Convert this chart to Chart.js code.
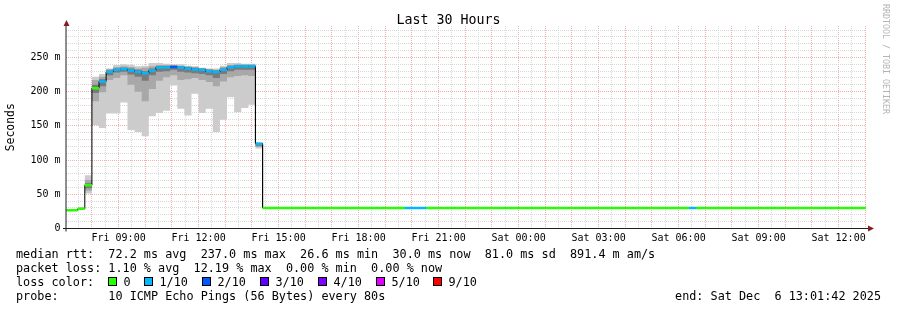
<!DOCTYPE html>
<html>
<head>
<meta charset="utf-8">
<script src="https://cdn.jsdelivr.net/npm/chart.js@4.4.1/dist/chart.umd.min.js"></script>
<style>
  html, body { margin: 0; padding: 0; background: #fff; }
  #wrap { position: relative; width: 897px; height: 310px; overflow: hidden; background: #fff; }
  #graph { position: absolute; left: 0; top: 0; }
  .txt { position: absolute; font-family: 'DejaVu Sans Mono', monospace; font-size: 11.8px; line-height: 14px; white-space: pre; color: #000; }
  .box { position: absolute; width: 7px; height: 7px; border: 1px solid #000; }
  #title { position: absolute; left: 0; width: 897px; top: 11.5px; text-align: center; font-family: 'DejaVu Sans Mono', monospace; font-size: 13.3px; line-height: 16px; }
  #credit { position: absolute; left: 881px; top: 4px; writing-mode: vertical-rl; font-family: 'DejaVu Sans Mono', monospace; font-size: 8.3px; line-height: 10px; color: #b4b4b4; white-space: pre; }
</style>
</head>
<body>
<div id="wrap">
  <canvas id="graph" width="897" height="310"></canvas>
  <div id="title">Last 30 Hours</div>
  <div id="credit">RRDTOOL / TOBI OETIKER</div>
  <div class="txt" style="left:16px; top:247px">median rtt:  72.2 ms avg  237.0 ms max  26.6 ms min  30.0 ms now  81.0 ms sd  891.4 m am/s</div>
  <div class="txt" style="left:16px; top:261px">packet loss: 1.10 % avg  12.19 % max  0.00 % min  0.00 % now</div>
  <div class="txt" style="left:16px; top:275px">loss color:</div>
  <div id="lossrow"></div>
  <div class="txt" style="left:16px; top:289px">probe:       10 ICMP Echo Pings (56 Bytes) every 80s</div>
  <div class="txt" style="right:16px; top:289px">end: Sat Dec  6 13:01:42 2025</div>
</div>
<script>
// time axis in hours since Fri 00:00; the window is the last 30 hours before Sat 13:01:42
const windowStart = 7 + 1 / 60 + 42 / 3600;
const windowEnd = windowStart + 30;
const stepHours = 16 / 60;              // 960 s consolidation step
const firstStep = 7 + 28 / 60 - 2 * stepHours;

const xTickHours = [9, 12, 15, 18, 21, 24, 27, 30, 33, 36];
const xTickLabels = ['Fri 09:00', 'Fri 12:00', 'Fri 15:00', 'Fri 18:00', 'Fri 21:00',
                     'Sat 00:00', 'Sat 03:00', 'Sat 06:00', 'Sat 09:00', 'Sat 12:00'];
const yTickValues = [0, 50, 100, 150, 200, 250];
const yTickLabels = ['0', '50 m', '100 m', '150 m', '200 m', '250 m'];

// median rtt per step (ms)
const median = [
  26.6, 26.6, 28.8, 63.2, 205, 215, 229, 232, 233, 231, 229, 227, 231, 235.5,
  235.5, 236, 235.5, 234, 232.5, 232, 229.7, 228.7, 232, 235.7, 237, 237, 237, 124,
  30.0, 30.0, 30.0, 30.0, 30.0, 30.0, 30.0, 30.0, 30.0, 30.0,
  30.0, 30.0, 30.0, 30.0, 30.0, 30.0, 30.0, 30.0, 30.0, 30.0,
  30.0, 30.0, 30.0, 30.0, 30.0, 30.0, 30.0, 30.0, 30.0, 30.0,
  30.0, 30.0, 30.0, 30.0, 30.0, 30.0, 30.0, 30.0, 30.0, 30.0,
  30.0, 30.0, 30.0, 30.0, 30.0, 30.0, 30.0, 30.0, 30.0, 30.0,
  30.0, 30.0, 30.0, 30.0, 30.0, 30.0, 30.0, 30.0, 30.0, 30.0,
  30.0, 30.0, 30.0, 30.0, 30.0, 30.0, 30.0, 30.0, 30.0, 30.0,
  30.0, 30.0, 30.0, 30.0, 30.0, 30.0, 30.0, 30.0, 30.0, 30.0,
  30.0, 30.0, 30.0, 30.0, 30.0
];

// lost pings (of 10) per step
const loss = [
  0, 0, 0, 0, 0, 1, 1, 1, 1, 1, 1, 1, 1, 1, 1, 2, 1, 1, 1, 1, 1, 1, 1, 1, 1, 1, 1, 1,
  0, 0, 0, 0, 0, 0, 0, 0, 0, 0, 0, 0, 0, 0, 0, 0, 0, 0, 0, 0,
  1, 1, 1,
  0, 0, 0, 0, 0, 0, 0, 0, 0, 0, 0, 0, 0, 0, 0, 0, 0, 0, 0, 0,
  0, 0, 0, 0, 0, 0, 0, 0, 0, 0, 0, 0, 0, 0, 0, 0, 0,
  1,
  0, 0, 0, 0, 0, 0, 0, 0, 0, 0, 0, 0, 0, 0, 0, 0, 0, 0, 0, 0, 0, 0, 0, 0
];

// smoke (spread of the 10 pings) for the first steps, outer to inner
const outerLo = [null, null, 28.5, 51, 151, 147, 168, 168, 184, 144, 141, 135, 164, 169, 172, 209, 175, 165, 197, 169, 175, 141, 159, 192, 170, 176, 181, 117];
const outerHi = [null, null, 31.5, 78, 222, 226, 234, 239, 240, 239, 237, 238, 242, 242, 241, 240, 240, 238, 237, 235, 234, 234, 238, 242, 242, 241, 241, 126];
const midLo   = [null, null, null, 55, 186, 199, 217, 220, 224, 210, 200, 186, 204, 216, 221, 224, 217, 218, 220, 217, 214, 208, 215, 221, 223, 224, 223, 119];
const midHi   = [null, null, null, 71, 217, 222, 233, 236, 237, 236, 234, 235, 237, 239, 239, 239, 238, 237, 236, 234, 233, 232, 236, 239, 240, 240, 240, 125];
const innerLo = [null, null, null, 59, 198, 208, 224, 228, 229, 225, 222, 216, 224, 229, 230, 232, 229, 228, 227, 226, 224, 220, 226, 230, 232, 232, 232, 121];
const innerHi = [null, null, null, 66, 210, 218, 231, 234, 235, 234, 232, 230, 234, 237, 237, 238, 237, 236, 235, 234, 232, 231, 234, 238, 239, 239, 239, 124.5];

const lossLevels = [0, 1, 2, 3, 4, 5, 9];
const lossLabels = ['0', '1/10', '2/10', '3/10', '4/10', '5/10', '9/10'];
const lossColors = ['#26ff00', '#00b8ff', '#0059ff', '#5e00ff', '#7e00ff', '#dd00ff', '#ff0000'];

const MONO = "'DejaVu Sans Mono', monospace";
const MINOR = '#d8d8d8';
const MAJOR = '#efb0b0';

function lossColor(n) {
  let c = lossColors[0];
  lossLevels.forEach((lvl, i) => { if (n >= lvl) c = lossColors[i]; });
  return c;
}

// each step becomes a flat piece from its left to its right edge
function steps(values) {
  const pts = [];
  values.forEach((v, i) => {
    const x0 = firstStep + i * stepHours;
    pts.push({ x: x0, y: v }, { x: firstStep + (i + 1) * stepHours, y: v });
  });
  return pts;
}

// legend row of loss colours
const row = document.getElementById('lossrow');
const boxX = [108, 144, 202, 260, 318, 376, 433];
lossLabels.forEach((lab, i) => {
  const b = document.createElement('div');
  b.className = 'box';
  b.style.left = boxX[i] + 'px';
  b.style.top = '277px';
  b.style.background = lossColors[i];
  row.appendChild(b);
  const t = document.createElement('div');
  t.className = 'txt';
  t.style.left = (boxX[i] + 15.5) + 'px';
  t.style.top = '275px';
  t.textContent = lab;
  row.appendChild(t);
});

const layers = [];
function addBand(lo, hi, color) {
  const loIndex = layers.length;
  layers.push({ data: steps(lo), borderWidth: 0, borderColor: 'rgba(0,0,0,0)', fill: false, clip: 0 });
  layers.push({ data: steps(hi), borderWidth: 0, borderColor: 'rgba(0,0,0,0)', backgroundColor: color, fill: loIndex, clip: 0 });
}
addBand(outerLo, outerHi, '#cccccc');
addBand(midLo, midHi, '#a8a8a8');
addBand(innerLo, innerHi, '#7a7a7a');

layers.push({ data: steps(median), borderColor: '#000', borderWidth: 1, fill: false, clip: 0 });
layers.push({
  data: steps(median), borderWidth: 2.5, fill: false, clip: 0,
  borderColor: '#26ff00',
  segment: {
    // odd start index = the vertical jump between two steps, left to the black line
    borderColor: ctx => ctx.p0DataIndex % 2 === 1
      ? 'rgba(0,0,0,0)'
      : lossColor(loss[ctx.p0DataIndex / 2])
  }
});
// bottom layer gets the highest order so it is drawn first
layers.forEach((d, i) => { d.order = layers.length - i; });

const axesPlugin = {
  id: 'rrdAxes',
  afterDatasetsDraw(chart) {
    const { ctx, chartArea: a } = chart;
    ctx.save();
    ctx.strokeStyle = '#1f1f1f';
    ctx.lineWidth = 1;
    ctx.beginPath();
    ctx.moveTo(a.left - 3, a.bottom);
    ctx.lineTo(a.right + 3, a.bottom);
    ctx.moveTo(a.left, a.bottom + 3);
    ctx.lineTo(a.left, a.top - 1);
    ctx.stroke();
    ctx.fillStyle = '#801f1f';
    ctx.beginPath();
    ctx.moveTo(a.right + 2, a.bottom - 3);
    ctx.lineTo(a.right + 8, a.bottom);
    ctx.lineTo(a.right + 2, a.bottom + 3);
    ctx.closePath();
    ctx.fill();
    ctx.beginPath();
    ctx.moveTo(a.left - 2.5, a.top);
    ctx.lineTo(a.left + 0.5, a.top - 6);
    ctx.lineTo(a.left + 3.5, a.top);
    ctx.closePath();
    ctx.fill();
    ctx.restore();
  }
};

const xGrid = [];
for (let h = 7.5; h <= 37; h += 0.5) xGrid.push(h);
const yGrid = [];
for (let v = 0; v <= 290; v += 10) yGrid.push(v);

new Chart(document.getElementById('graph'), {
  type: 'line',
  data: { datasets: layers },
  options: {
    responsive: false,
    animation: false,
    devicePixelRatio: 1,
    parsing: false,
    layout: { padding: { left: 0, right: 31, top: 26, bottom: 0 } },
    elements: { point: { radius: 0 }, line: { tension: 0 } },
    plugins: {
      legend: { display: false },
      tooltip: { enabled: false },
      filler: { propagate: false }
    },
    scales: {
      x: {
        type: 'linear',
        min: windowStart,
        max: windowEnd,
        afterBuildTicks: s => { s.ticks = xGrid.map(v => ({ value: v })); },
        afterFit: s => { s.height = 81.5; },
        grid: {
          color: c => Number.isInteger(c.tick.value) ? MAJOR : MINOR,
          drawTicks: false,
          borderDash: [1, 1]
        },
        border: { display: false, dash: [1, 1] },
        ticks: {
          autoSkip: false,
          maxRotation: 0,
          padding: 4,
          color: '#000',
          font: { family: MONO, size: 10 },
          callback: v => {
            const i = xTickHours.findIndex(h => Math.abs(h - v) < 1e-6);
            return i < 0 ? '' : xTickLabels[i];
          }
        }
      },
      y: {
        type: 'linear',
        min: 0,
        max: 296,
        afterBuildTicks: s => { s.ticks = yGrid.map(v => ({ value: v })); },
        afterFit: s => { s.width = 66; },
        grid: {
          color: c => c.tick.value % 50 === 0 ? MAJOR : MINOR,
          drawTicks: false,
          borderDash: [1, 1]
        },
        border: { display: false, dash: [1, 1] },
        ticks: {
          autoSkip: false,
          padding: 5.5,
          color: '#000',
          font: { family: MONO, size: 10 },
          callback: v => {
            const i = yTickValues.indexOf(v);
            return i < 0 ? '' : yTickLabels[i];
          }
        },
        title: {
          display: true,
          text: 'Seconds',
          color: '#000',
          font: { family: MONO, size: 11.4 },
          padding: { top: 4, bottom: 0 }
        }
      }
    }
  },
  plugins: [axesPlugin]
});
</script>
</body>
</html>
